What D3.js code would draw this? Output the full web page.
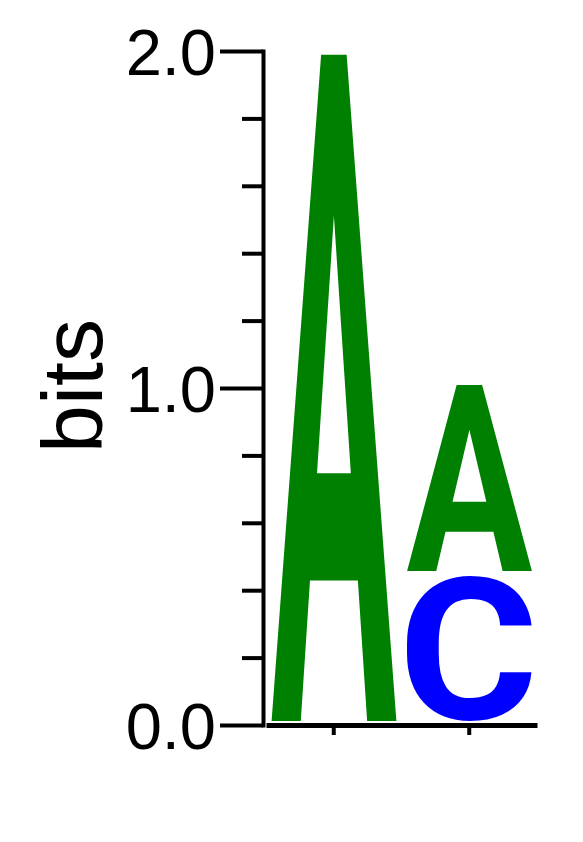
<!DOCTYPE html>
<html>
<head>
<meta charset="utf-8">
<script src="https://cdn.jsdelivr.net/npm/d3@7"></script>
<style>
  html, body { margin: 0; padding: 0; background: #fff; }
  svg { display: block; }
</style>
</head>
<body>
<svg id="chart" width="583" height="842"></svg>
<script>
// ---- data ----
const positions = ["1", "2"];
const letters = ["A", "C"];
const heightsA = [2.0, 0.567];   // bits of A at each position
const heightsC = [0.0, 0.445];   // bits of C at each position
const letterColors = ["#008000", "#0000ff"];
const majorTicks = [0, 1, 2];
const majorLabels = ["0.0", "1.0", "2.0"];
const minorTicks = [0.2, 0.4, 0.6, 0.8, 1.2, 1.4, 1.6, 1.8];
const yLabel = "bits";

// ---- scales ----
const svg = d3.select("#chart");
const x = d3.scaleBand().domain(positions).range([266, 537]).paddingInner(0).paddingOuter(0);
const y = d3.scaleLinear().domain([0, 2]).range([725, 51]);
const color = d3.scaleOrdinal().domain(letters).range(letterColors);

// ---- glyph metrics via canvas ----
const glyphFont = "Roboto, 'Liberation Sans', Arial, sans-serif";
const ctx = document.createElement("canvas").getContext("2d");
ctx.font = "bold 200px " + glyphFont;
function metrics(ch) {
  const m = ctx.measureText(ch);
  return { L: m.actualBoundingBoxLeft, R: m.actualBoundingBoxRight,
           A: m.actualBoundingBoxAscent, D: m.actualBoundingBoxDescent };
}

// ---- letters ----
const gLetters = svg.append("g");
const series = { A: heightsA, C: heightsC };
positions.forEach((p, i) => {
  const stack = letters.map(l => ({ letter: l, h: series[l][i] }))
    .filter(d => d.h > 0)
    .sort((a, b) => a.h - b.h);
  let base = 0;
  stack.forEach(d => {
    const top = y(base + d.h);
    const bottom = y(base) - 4;
    const x0 = x(p) + 5;
    const w = x.bandwidth() - 10;
    const h = bottom - top;
    const m = metrics(d.letter);
    const sx = w / (m.L + m.R);
    const sy = h / (m.A + m.D);
    gLetters.append("text")
      .attr("transform", `translate(${x0 + m.L * sx},${top + m.A * sy}) scale(${sx},${sy})`)
      .attr("font-family", glyphFont)
      .attr("font-weight", "bold")
      .attr("font-size", 200)
      .attr("fill", color(d.letter))
      .text(d.letter);
    base += d.h;
  });
});

// ---- y axis ----
const tickFont = "'Liberation Sans', Arial, Helvetica, sans-serif";
const yAxis = d3.axisLeft(y).tickValues(majorTicks)
  .tickFormat(d => majorLabels[majorTicks.indexOf(d)])
  .tickSize(43).tickSizeOuter(0).tickPadding(4);
const gy = svg.append("g").attr("transform", "translate(263,0)").call(yAxis);
gy.select(".domain").attr("stroke", "#000").attr("stroke-width", 4).attr("stroke-linecap", "square");
gy.selectAll(".tick line").attr("stroke", "#000").attr("stroke-width", 4);
gy.selectAll(".tick text")
  .attr("font-family", tickFont).attr("font-size", 65).attr("fill", "#000")
  .attr("dy", "0.36em");

const yMinor = d3.axisLeft(y).tickValues(minorTicks).tickFormat("").tickSize(21).tickSizeOuter(0);
const gym = svg.append("g").attr("transform", "translate(263,0)").call(yMinor);
gym.select(".domain").remove();
gym.selectAll(".tick line").attr("stroke", "#000").attr("stroke-width", 4);

// ---- x axis ----
const xAxis = d3.axisBottom(x).tickFormat("").tickSize(10).tickSizeOuter(0);
const gx = svg.append("g").attr("transform", "translate(0,725)").call(xAxis);
gx.select(".domain").attr("stroke", "#000").attr("stroke-width", 5);
gx.selectAll(".tick line").attr("stroke", "#000").attr("stroke-width", 4);

// ---- y label ----
svg.append("text")
  .attr("transform", "translate(102,386) rotate(-90)")
  .attr("text-anchor", "middle")
  .attr("font-family", tickFont)
  .attr("font-size", 86)
  .attr("fill", "#000")
  .text(yLabel);
</script>
</body>
</html>
